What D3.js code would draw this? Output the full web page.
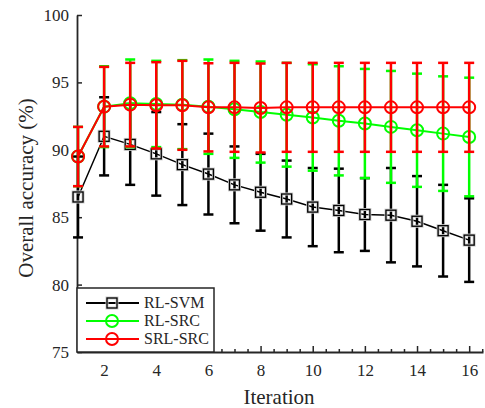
<!DOCTYPE html>
<html>
<head>
<meta charset="utf-8">
<script src="https://cdn.jsdelivr.net/npm/d3@7"></script>
<style>
  body { margin: 0; background: #fff; }
  svg { display: block; }
  svg text { font-family: "Liberation Serif", "Times New Roman", serif; }
</style>
</head>
<body>
<div id="chart"></div>
<script>
// chart values
var iterations = [1, 2, 3, 4, 5, 6, 7, 8, 9, 10, 11, 12, 13, 14, 15, 16];

var svmMean = [86.5, 91.0, 90.4, 89.7, 88.9, 88.2, 87.4, 86.85, 86.35, 85.75, 85.5, 85.2, 85.15, 84.7, 84.0, 83.3];
var svmErr  = [3.0, 2.9, 3.0, 3.1, 3.0, 3.0, 2.85, 2.85, 2.85, 2.9, 3.1, 2.7, 3.5, 3.35, 3.4, 3.1];

var srcMean = [89.5, 93.2, 93.45, 93.4, 93.35, 93.2, 93.0, 92.8, 92.6, 92.4, 92.15, 91.95, 91.7, 91.45, 91.2, 90.95];
var srcErr  = [2.2, 3.0, 3.25, 3.2, 3.3, 3.5, 3.6, 3.75, 3.85, 3.95, 4.05, 4.05, 4.15, 4.2, 4.25, 4.4];

var srlMean = [89.5, 93.2, 93.35, 93.3, 93.3, 93.15, 93.15, 93.1, 93.15, 93.15, 93.15, 93.15, 93.15, 93.15, 93.15, 93.15];
var srlErr  = [2.2, 2.95, 3.1, 3.2, 3.3, 3.27, 3.3, 3.3, 3.3, 3.3, 3.3, 3.3, 3.3, 3.3, 3.3, 3.3];

var seriesNames = ["RL-SVM", "RL-SRC", "SRL-SRC"];
var yTicks = [75, 80, 85, 90, 95, 100];
var xTicks = [2, 4, 6, 8, 10, 12, 14, 16];

var svgWidth = 485;
var svgHeight = 408;
var axisColor = "#262626";
var font = "'Liberation Serif', 'Times New Roman', serif";

var svg = d3.select("#chart")
  .append("svg")
  .attr("width", svgWidth)
  .attr("height", svgHeight);

// scales
var xScale = d3.scaleLinear().domain([0.96, 16.53]).range([77, 483]);
var yScale = d3.scaleLinear().domain([75, 100]).range([352, 15]);

// x axis (ticks pointing inside)
var minorX = d3.range(1, 16.51, 0.5).filter(d => xTicks.indexOf(d) < 0);
svg.append("g")
  .attr("transform", "translate(0,352)")
  .call(d3.axisTop(xScale).tickValues(minorX).tickSize(3).tickFormat("").tickSizeOuter(0))
  .call(g => g.select(".domain").remove())
  .call(g => g.selectAll("line").attr("stroke", axisColor).attr("stroke-width", 1.5));

var xAxis = svg.append("g")
  .attr("transform", "translate(0,352)")
  .call(d3.axisBottom(xScale).tickValues(xTicks).tickSize(0).tickPadding(12).tickSizeOuter(0));
xAxis.select(".domain").attr("stroke", axisColor).attr("stroke-width", 1.8);
xAxis.selectAll("text")
  .style("font-family", font).attr("font-size", "17px").attr("fill", axisColor);
xAxis.selectAll(".tick").append("line")
  .attr("y2", -6).attr("stroke", axisColor).attr("stroke-width", 1.5);

// y axis
var yAxis = svg.append("g")
  .attr("transform", "translate(77,0)")
  .call(d3.axisLeft(yScale).tickValues(yTicks).tickSize(0).tickPadding(8).tickSizeOuter(0));
yAxis.select(".domain").attr("stroke", axisColor).attr("stroke-width", 1.8);
yAxis.selectAll("text")
  .style("font-family", font).attr("font-size", "17px").attr("fill", axisColor);
yAxis.selectAll(".tick").append("line")
  .attr("x2", 5).attr("stroke", axisColor).attr("stroke-width", 1.5);

// axis titles
svg.append("text")
  .attr("transform", "rotate(-90)")
  .attr("x", -188)
  .attr("y", 33)
  .attr("text-anchor", "middle")
  .style("font-family", font)
  .attr("font-size", "21px")
  .attr("fill", axisColor)
  .text("Overall accuracy (%)");

svg.append("text")
  .attr("x", 279)
  .attr("y", 404)
  .attr("text-anchor", "middle")
  .style("font-family", font)
  .attr("font-size", "21px")
  .attr("fill", axisColor)
  .text("Iteration");

// series
var series = [
  { name: seriesNames[0], mean: svmMean, err: svmErr, color: "#000000", marker: "square", lw: 1.5 },
  { name: seriesNames[1], mean: srcMean, err: srcErr, color: "#00ff00", marker: "circle", lw: 2 },
  { name: seriesNames[2], mean: srlMean, err: srlErr, color: "#ff0000", marker: "circle", lw: 2 }
];

var line = d3.line()
  .x(d => xScale(d.x))
  .y(d => yScale(d.y));

function drawMarker(g, type, cx, cy, color) {
  if (type === "square") {
    g.append("rect")
      .attr("x", cx - 5).attr("y", cy - 5)
      .attr("width", 10).attr("height", 10)
      .attr("fill", "none").attr("stroke", "#ccc").attr("stroke-width", 3);
    g.append("rect")
      .attr("x", cx - 5).attr("y", cy - 5)
      .attr("width", 10).attr("height", 10)
      .attr("fill", "none").attr("stroke", color).attr("stroke-width", 1.3);
  } else {
    g.append("circle")
      .attr("cx", cx).attr("cy", cy).attr("r", 6)
      .attr("fill", "none").attr("stroke", color).attr("stroke-width", 2);
  }
}

series.forEach(function(s) {
  var pts = iterations.map((x, i) => ({ x: x, y: s.mean[i], e: s.err[i] }));
  var g = svg.append("g");

  g.append("path")
    .datum(pts)
    .attr("d", line)
    .attr("fill", "none")
    .attr("stroke", s.color)
    .attr("stroke-width", s.lw);

  // error bars
  pts.forEach(function(p) {
    var cx = xScale(p.x);
    var yTop = yScale(p.y + p.e);
    var yBot = yScale(p.y - p.e);
    g.append("line")
      .attr("x1", cx).attr("x2", cx).attr("y1", yTop).attr("y2", yBot)
      .attr("stroke", s.color).attr("stroke-width", 2.5);
    [yTop, yBot].forEach(function(yy) {
      g.append("line")
        .attr("x1", cx - 5).attr("x2", cx + 5).attr("y1", yy).attr("y2", yy)
        .attr("stroke", s.color).attr("stroke-width", 2.5);
    });
  });

  pts.forEach(function(p) {
    drawMarker(g, s.marker, xScale(p.x), yScale(p.y), s.color);
  });
});

// legend
var legend = svg.append("g");
legend.append("rect")
  .attr("x", 77).attr("y", 288)
  .attr("width", 137).attr("height", 64)
  .attr("fill", "#fff")
  .attr("stroke", axisColor)
  .attr("stroke-width", 1.5);

series.forEach(function(s, i) {
  var ly = 303 + i * 18;
  legend.append("line")
    .attr("x1", 86).attr("x2", 139).attr("y1", ly).attr("y2", ly)
    .attr("stroke", s.color).attr("stroke-width", 2);
  drawMarker(legend, s.marker, 112, ly, s.color);
  legend.append("text")
    .attr("x", 144).attr("y", ly + 5)
    .style("font-family", font)
    .attr("font-size", "16px")
    .attr("fill", axisColor)
    .text(s.name);
});
</script>
</body>
</html>
